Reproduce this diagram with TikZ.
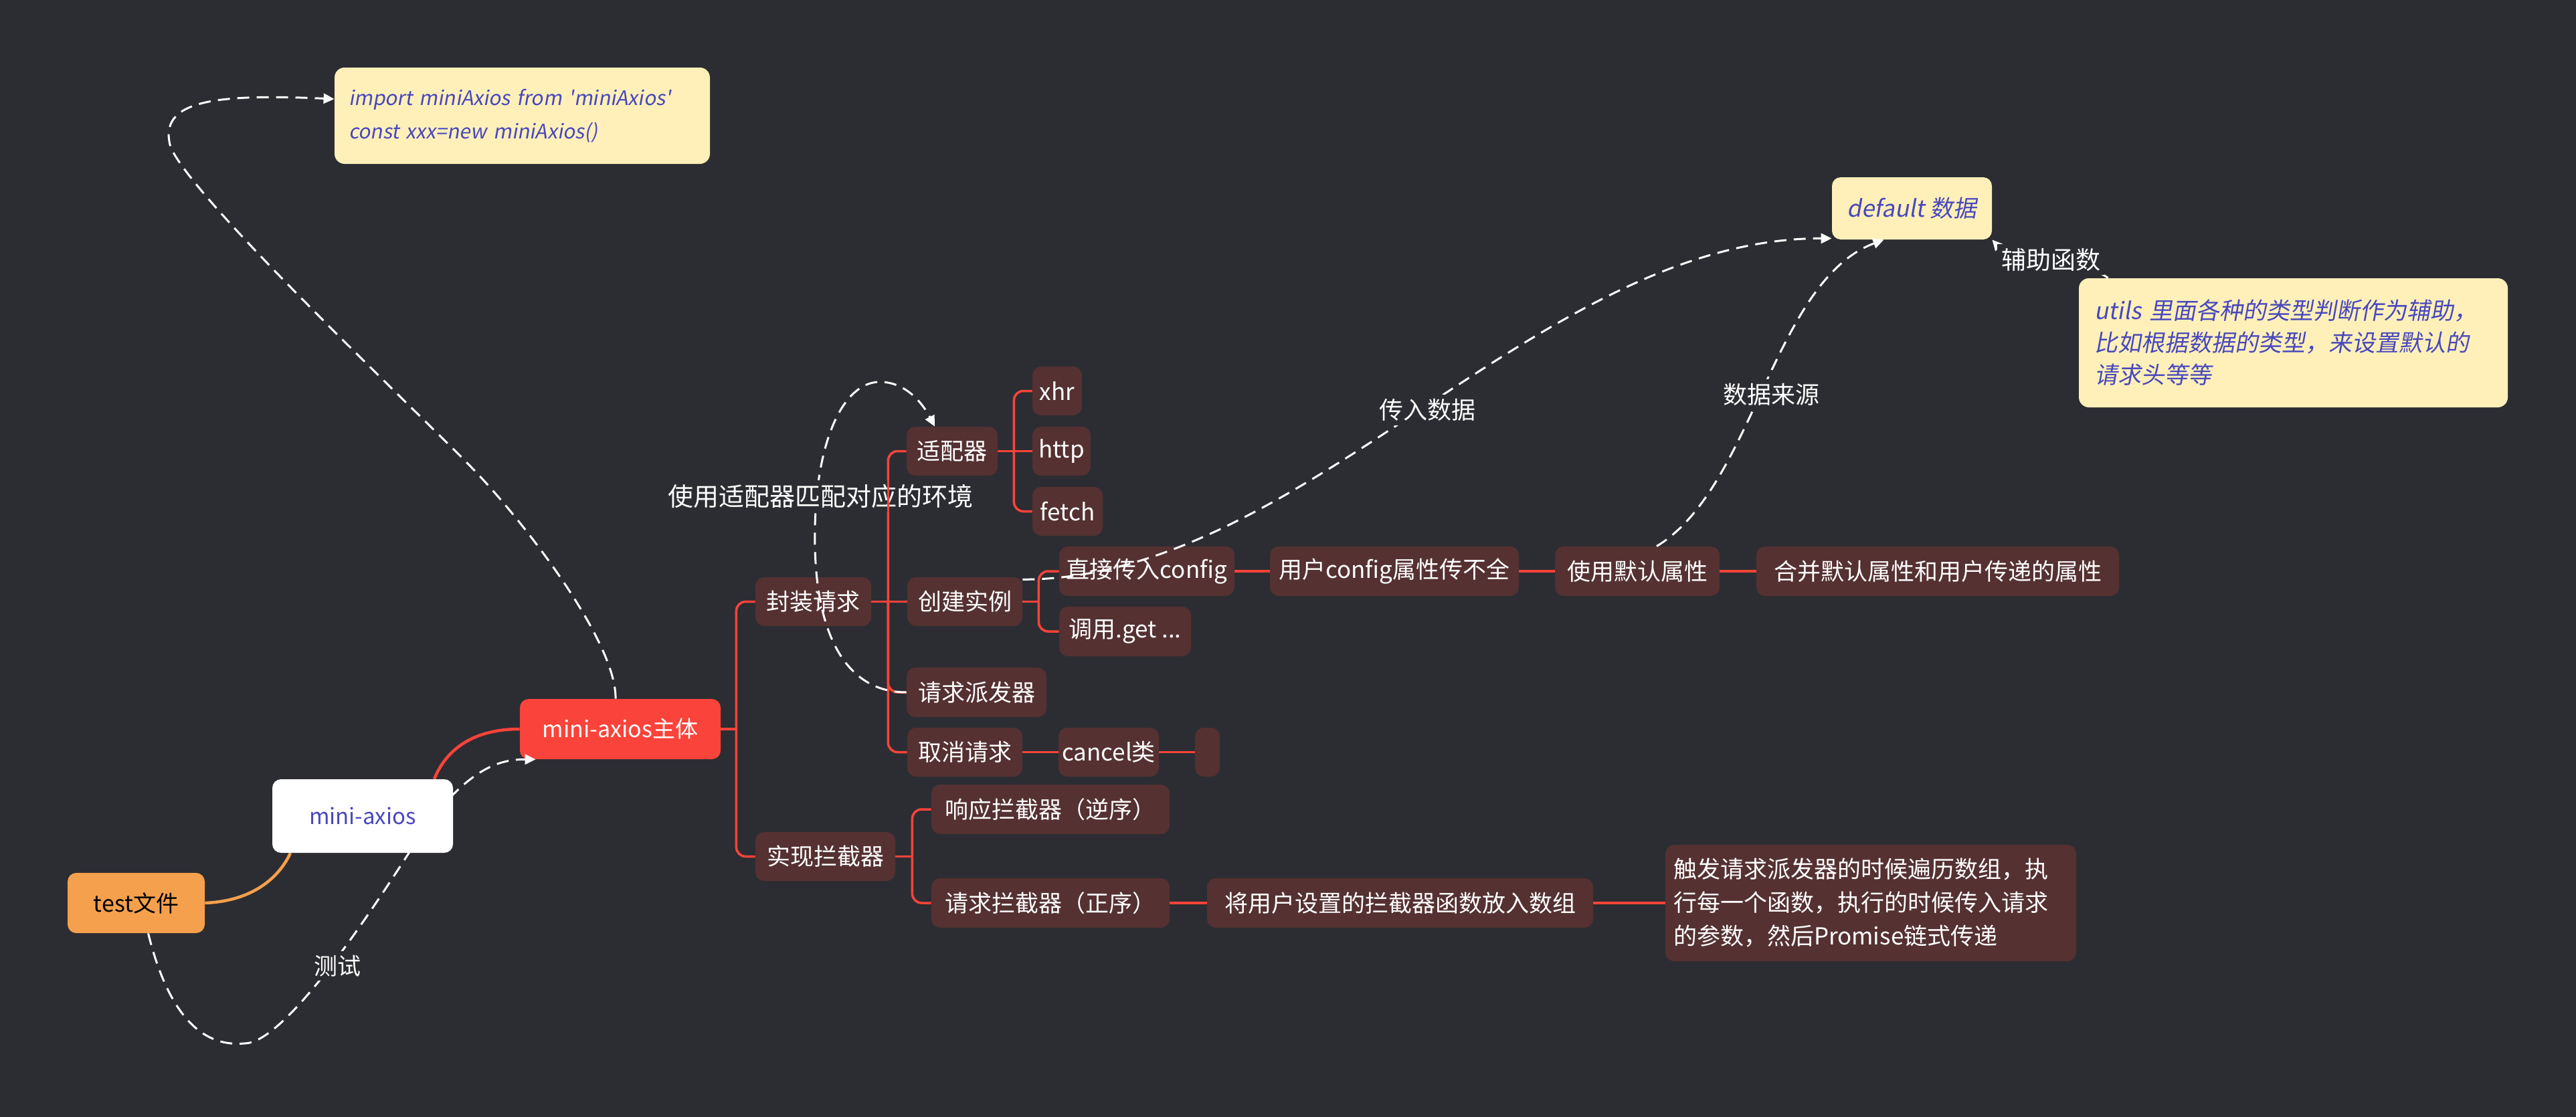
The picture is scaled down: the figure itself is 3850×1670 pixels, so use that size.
\documentclass[tikz,border=0pt]{standalone}
\usepackage{fontspec}
\setmainfont{Noto Sans CJK SC}
\newfontfamily\slf{Noto Sans CJK SC}[FakeSlant=0.18, Ligatures=TeXOff]
\usetikzlibrary{arrows.meta}
\definecolor{bg}{RGB}{44,45,50}
\definecolor{nodebg}{RGB}{85,49,49}
\definecolor{redc}{RGB}{250,67,58}
\definecolor{orac}{RGB}{245,160,76}
\definecolor{yel}{RGB}{255,240,185}
\definecolor{blu}{RGB}{72,72,190}
\newcommand\fsz[2]{\fontsize{#1pt}{#2pt}\selectfont}
\pgfdeclarelayer{bglayer}
\pgfdeclarelayer{lines}
\pgfdeclarelayer{front}
\pgfsetlayers{bglayer,lines,main,front}
\begin{document}
\begin{tikzpicture}[x=0.5pt,y=-0.5pt,
  bx/.style={rounded corners=6.5pt, inner sep=0pt, align=center, text=white, fill=nodebg, font=\fsz{17.5}{24}},
  sz/.style 2 args={minimum width=#1*0.5pt, minimum height=#2*0.5pt},
  br/.style={draw=redc, line width=1.75pt},
  brc/.style={br, rounded corners=7pt},
  rel/.style={draw=white, line width=1.5pt, dash pattern=on 9pt off 5.5pt, -{Triangle[length=8pt,width=7.5pt]}},
  lab/.style={fill=bg, text=white, inner sep=3pt}]
\useasboundingbox (0,0) rectangle (3850,1670);
\begin{pgfonlayer}{bglayer}
\fill[bg] (0,0) rectangle (3850,1670);
\end{pgfonlayer}

% nodes
\node[bx, sz={561}{144}, fill=yel, text=blu, text width=259.5pt, align=left, font=\slf\fsz{15}{25}, rounded corners=7.5pt] (imp) at (780.5,173) {import miniAxios from 'miniAxios'\\const xxx=new miniAxios()};
\node[bx, sz={270}{110}, fill=white, text=blu, font=\fsz{16.5}{20}] (mx) at (542,1220) {mini-axios};
\node[bx, sz={205}{90}, fill=orac, text=black, font=\fsz{17}{20}] (test) at (203.5,1350) {test文件};
\node[bx, sz={300}{90}, fill=redc, font=\fsz{17}{20}] (main) at (927,1090) {mini-axios主体};
\node[bx, sz={173}{73}] (fz) at (1215.5,899.5) {封装请求};
\node[bx, sz={209}{73}] (sx) at (1233.5,1280.5) {实现拦截器};
\node[bx, sz={136}{73}] (sp) at (1423,674.5) {适配器};
\node[bx, sz={172}{73}] (cj) at (1442,899.5) {创建实例};
\node[bx, sz={209}{74}] (pf) at (1459.5,1035) {请求派发器};
\node[bx, sz={172}{73}] (qx) at (1442,1124.5) {取消请求};
\node[bx, sz={74}{73}] (xhr) at (1580,584.5) {xhr};
\node[bx, sz={87}{73}] (http) at (1586.5,674.5) {http};
\node[bx, sz={105}{73}] (fetch) at (1595.5,764.5) {fetch};
\node[bx, sz={262}{74}] (zj) at (1714,854) {直接传入config};
\node[bx, sz={197}{74}] (dy) at (1681.5,944) {调用.get ...};
\node[bx, sz={372}{74}] (yh) at (2084,854) {用户config属性传不全};
\node[bx, sz={246}{74}] (mr) at (2447,854) {使用默认属性};
\node[bx, sz={542}{74}] (hb) at (2896,854) {合并默认属性和用户传递的属性};
\node[bx, sz={150}{73}] (cc) at (1657,1124.5) {cancel类};
\node[bx, sz={37}{73}] (em) at (1804.5,1124.5) {};
\node[bx, sz={356}{74}] (xy) at (1570,1210) {响应拦截器（逆序）};
\node[bx, sz={356}{74}] (qq) at (1570,1350) {请求拦截器（正序）};
\node[bx, sz={577}{74}] (jy) at (2092.5,1350) {将用户设置的拦截器函数放入数组};
\node[bx, sz={614}{174}, text width=295pt, align=left, font=\fsz{17.5}{25}] (cf) at (2796,1350) {触发请求派发器的时候遍历数组，执\\行每一个函数，执行的时候传入请求\\的参数，然后Promise链式传递};
\node[bx, sz={239}{93}, fill=yel, text=blu, font=\slf\fsz{17.5}{20}] (dft) at (2857.5,311.5) {default 数据};
\node[bx, sz={641}{193}, fill=yel, text=blu, text width=297.5pt, align=left, font=\slf\fsz{17.5}{24}, rounded corners=7.5pt] (ut) at (3427.5,512.5) {utils 里面各种的类型判断作为辅助，\\比如根据数据的类型，来设置默认的\\请求头等等};

% branch lines
\begin{pgfonlayer}{lines}
\draw[orac, line width=2.25pt] (test.east) .. controls (380,1347) and (418,1310) .. ([xshift=-54pt]mx.south);
\draw[redc, line width=2.25pt] ([xshift=53.5pt]mx.north) .. controls (668,1118) and (710,1090) .. (main.west);
\coordinate (t0) at ([xshift=11.5pt]main.east);
\draw[br] (main.east) -- (t0);
\draw[brc] (t0) |- (fz.west);
\draw[brc] (t0) |- (sx.west);
\coordinate (t1) at ([xshift=12.5pt]fz.east);
\draw[br] (fz.east) -- (cj.west);
\foreach \c in {sp,pf,qx} {\draw[brc] (t1) |- (\c.west);}
\coordinate (t2) at ([xshift=12pt]sp.east);
\draw[br] (sp.east) -- (http.west);
\foreach \c in {xhr,fetch} {\draw[brc] (t2) |- (\c.west);}
\coordinate (t3) at ([xshift=12pt]cj.east);
\draw[br] (cj.east) -- (t3);
\foreach \c in {zj,dy} {\draw[brc] (t3) |- (\c.west);}
\coordinate (t4) at ([xshift=12.5pt]sx.east);
\draw[br] (sx.east) -- (t4);
\foreach \c in {xy,qq} {\draw[brc] (t4) |- (\c.west);}
\draw[br] (zj.east) -- (yh.west);
\draw[br] (yh.east) -- (mr.west);
\draw[br] (mr.east) -- (hb.west);
\draw[br] (qx.east) -- (cc.west);
\draw[br] (cc.east) -- (em.west);
\draw[br] (qq.east) -- (jy.west);
\draw[br] (jy.east) -- (cf.west);
\end{pgfonlayer}

% relations
\begin{pgfonlayer}{front}
\draw[rel] ([xshift=9pt]test.south) .. controls (255,1530) and (310,1565) .. (365,1560) .. controls (430,1560) and (570,1340) .. (640,1230) .. controls (700,1155) and (740,1135) .. ([xshift=12pt]main.south west);
\draw[rel] ([xshift=-3.5pt]main.north) .. controls (922,960) and (780,775) .. (700,694) .. controls (620,612) and (290,300) .. (255,220) .. controls (235,150) and (320,140) .. ([yshift=12.5pt]imp.west);
\draw[rel] (pf.west) .. controls (1260,1035) and (1215,940) .. (1218,790) .. controls (1220,660) and (1260,571) .. (1315,571) .. controls (1355,571) and (1380,605) .. ([xshift=-13pt]sp.north);
\draw[rel] (cj.21) .. controls (1950,866) and (2300,356) .. ([yshift=1pt]dft.south west);
\draw[rel] ([xshift=14.5pt]mr.north) .. controls (2620,730) and (2650,420) .. ([xshift=-21pt]dft.south);
\draw[rel] ([xshift=22pt]ut.north west) .. controls (3110,385) and (3010,395) .. (dft.south east);
\node[lab, font=\fsz{17.5}{20}] (l1) at (504,1444) {测试};
\node[lab, font=\fsz{19}{22}] (l2) at (1226,742) {使用适配器匹配对应的环境};
\node[lab, font=\fsz{18}{20}] (l3) at (2133,613) {传入数据};
\node[lab, font=\fsz{18}{20}] (l4) at (2647,590) {数据来源};
\node[lab, font=\fsz{18.5}{20}] (l5) at (3065,388) {辅助函数};
\draw[br] (t1 |- l2.north) -- (t1 |- l2.south);
\end{pgfonlayer}
\end{tikzpicture}
\end{document}
